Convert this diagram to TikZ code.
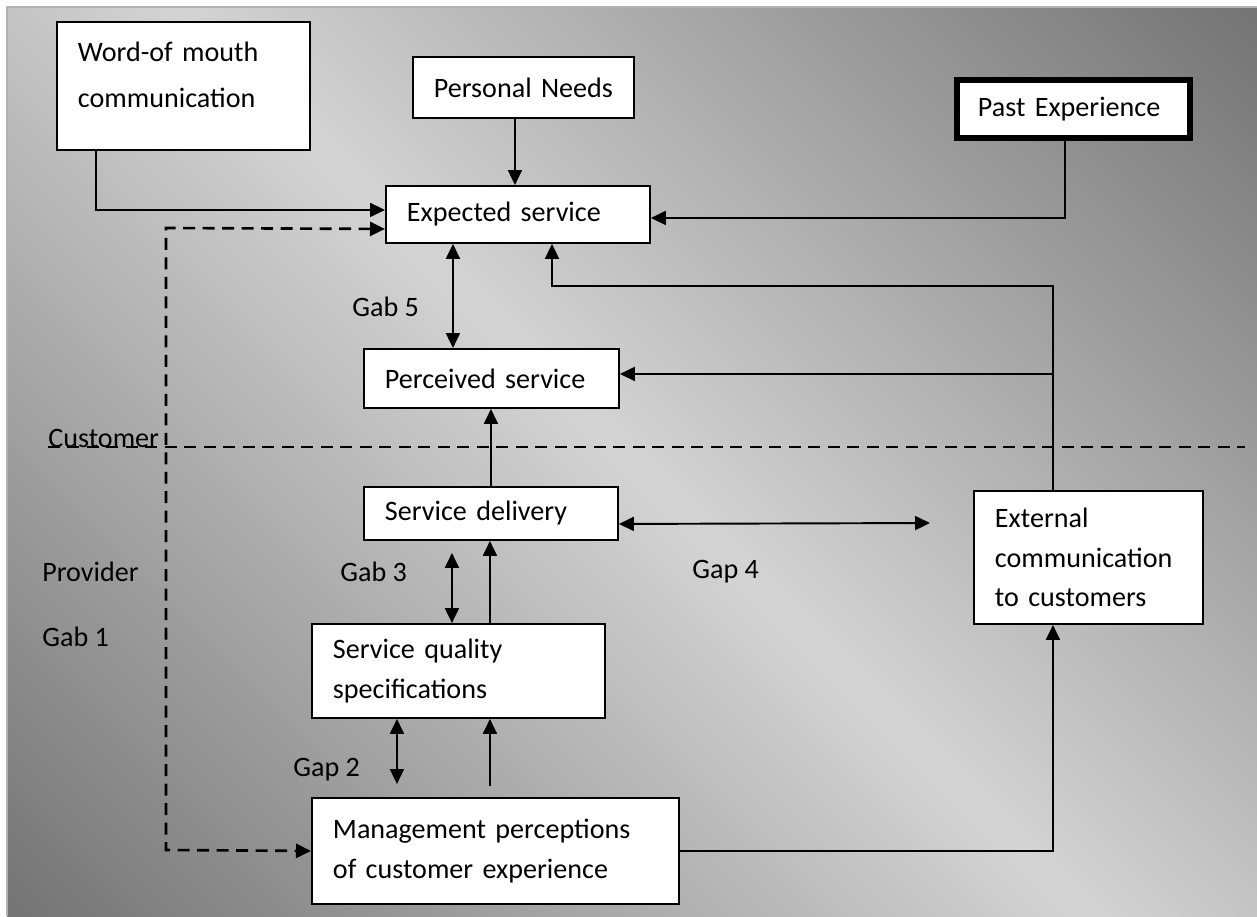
\documentclass[tikz,border=0pt]{standalone}
\usepackage{fontspec}
\setmainfont{Carlito}
\usetikzlibrary{arrows.meta}
\pgfdeclarehorizontalshading{bggrad}{100bp}{color(0bp)=(black!70); color(50bp)=(black!17); color(100bp)=(black!70)}

\begin{document}
\begin{tikzpicture}[x=0.02cm,y=-0.02cm,font=\fontsize{16}{22.7}\selectfont,
box/.style={draw,fill=white,line width=1.1pt,anchor=north west,align=left,inner xsep=0.42cm,inner ysep=0pt},
arr/.style={line width=1.1pt,-{Triangle[length=0.3cm,width=0.28cm]}},
dbl/.style={line width=1.1pt,{Triangle[length=0.3cm,width=0.28cm]}-{Triangle[length=0.3cm,width=0.28cm]}},
dashline/.style={line width=1.5pt,dash pattern=on 0.24cm off 0.15cm},
gab/.style={anchor=west,inner sep=0pt}]
\useasboundingbox (0,0) rectangle (1257,916);
\shade[shading=bggrad,shading angle=45] (7,7) rectangle (1257,916);
\draw[black!30,line width=0.6pt] (7,916) -- (7,7) -- (1257,7);

\node[box,text width=4.22cm,minimum height=2.56cm,text depth=1.37cm] (wom) at (56,21) {Word-of mouth\\[0.12cm]communication};
\node[box,align=center,inner xsep=0.16cm,text width=4.1cm,minimum height=1.22cm] (needs) at (412,56) {Personal Needs};
\node[box,text width=3.82cm,minimum height=1.16cm,line width=3.4pt] (past) at (954,77) {Past Experience};
\node[box,text width=4.44cm,minimum height=1.14cm] (expected) at (385,185) {Expected service};
\node[box,text width=4.26cm,minimum height=1.18cm] (perceived) at (363,348) {Perceived service};
\node[box,text width=4.24cm,minimum height=1.06cm] (delivery) at (363,486) {Service delivery};
\node[box,text width=5.02cm,minimum height=1.88cm] (quality) at (311,623) {Service quality\\specifications};
\node[box,text width=6.50cm,minimum height=2.12cm] (mgmt) at (311,797) {Management perceptions\\of customer experience};
\node[box,text width=3.74cm,minimum height=2.66cm] (ext) at (973,490) {External\\communication\\to customers};

\node[gab] (gab5) at (352,307) {Gab 5};
\node[gab] (gab3) at (340,572) {Gab 3};
\node[gab] (gap2) at (293,770) {Gap 2};
\node[gab] (gap4) at (692,572) {Gap 4};
\node[gab] (provider) at (42,572) {Provider};
\node[gab] (gab1) at (42,637) {Gab 1};
\node[gab,anchor=base west] (customer) at (48,447) {Customer};

\coordinate (gtop) at (166,228);
\coordinate (gbot) at (166,850);
\coordinate (custend) at (1245,449);
\coordinate (elbow) at (552,286);
\coordinate (g4end) at (930,523);
\coordinate (lineup) at ([xshift=-0.71cm]ext.north);
\coordinate (needsout) at ([xshift=-0.17cm]needs.south);
\coordinate (pastout) at ([xshift=-0.17cm]past.south);
\coordinate (g5) at ([xshift=-1.3cm]expected.south);
\coordinate (percin) at ([yshift=0.09cm]perceived.east);
\coordinate (sdout) at ([yshift=-0.21cm]delivery.east);
\coordinate (squp) at ([xshift=0.63cm]quality.north);
\coordinate (g3) at ([xshift=-0.13cm]quality.north);
\coordinate (g2) at ([xshift=-1.23cm]quality.south);
\coordinate (mgup) at ([xshift=0.63cm]quality.south);

\draw[arr] ([xshift=0.8cm]wom.south west) |- ([yshift=0.09cm]expected.west);
\draw[dashline,{Triangle[length=0.3cm,width=0.28cm]}-{Triangle[length=0.3cm,width=0.28cm]}] ([yshift=-0.29cm]expected.west) -- (gtop) -- (gbot) -- (mgmt.west);
\draw[arr] (needsout) -- (needsout |- expected.north);
\draw[arr] (pastout) |- ([yshift=-0.07cm]expected.east);
\draw[dbl] (g5) -- (g5 |- perceived.north);
\draw[arr] (lineup) |- (elbow) -- (elbow |- expected.south);
\draw[arr] (lineup |- percin) -- (percin);
\draw[arr] (delivery.north) -- (delivery.north |- perceived.south);
\draw[dbl] (sdout) -- (g4end);
\draw[arr] (squp) -- (squp |- delivery.south);
\draw[dbl,shorten >=0.24cm] (g3) -- (g3 |- delivery.south);
\draw[dbl,shorten >=0.26cm] (g2) -- (g2 |- mgmt.north);
\draw[arr,shorten <=0.22cm] (mgup |- mgmt.north) -- (mgup);
\draw[arr] (mgmt.east) -| ([xshift=-0.71cm]ext.south);
\draw[dashline] (customer.base west) -- (customer.base west -| custend);
\end{tikzpicture}
\end{document}
